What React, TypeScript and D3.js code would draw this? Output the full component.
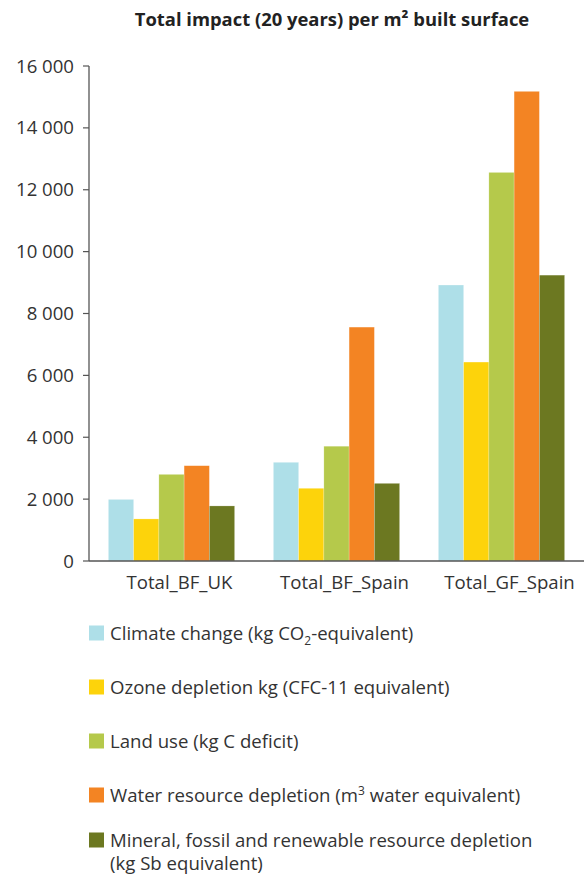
import React from "react";
import * as d3 from "d3";

const categories = ["Total_BF_UK", "Total_BF_Spain", "Total_GF_Spain"];
const seriesNames = [
  "Climate change",
  "Ozone depletion",
  "Land use",
  "Water resource depletion",
  "Mineral, fossil and renewable resource depletion",
];
const climateChange = [1990, 3190, 8920];
const ozoneDepletion = [1360, 2350, 6430];
const landUse = [2800, 3710, 12560];
const waterDepletion = [3080, 7560, 15180];
const mineralDepletion = [1780, 2510, 9240];
const yTicks = [0, 2000, 4000, 6000, 8000, 10000, 12000, 14000, 16000];
const colors = ["#AEDFE8", "#FDD30B", "#B5C94B", "#F38423", "#6C7821"];

const seriesValues = [climateChange, ozoneDepletion, landUse, waterDepletion, mineralDepletion];

const W = 585;
const H = 875;
const margin = { left: 89, right: 1, top: 66, bottom: 314 };
const FONT = "'Open Sans', 'Noto Sans', sans-serif";
const TEXT = "#333333";
const AXIS = "#555555";
const FS = 18.6;

function fmt(v: number) {
  return d3.format(",")(v).replace(/,/g, " ");
}

function LegendLabel({ i }: { i: number }) {
  const small = { fontSize: 12 };
  if (i === 0)
    return (
      <>
        <tspan>Climate change (kg CO</tspan>
        <tspan dy={5} style={small}>2</tspan>
        <tspan dy={-5}>-equivalent)</tspan>
      </>
    );
  if (i === 1) return <tspan>Ozone depletion kg (CFC-11 equivalent)</tspan>;
  if (i === 2) return <tspan>Land use (kg C deficit)</tspan>;
  if (i === 3)
    return (
      <>
        <tspan>Water resource depletion (m</tspan>
        <tspan dy={-7} style={small}>3</tspan>
        <tspan dy={7}> water equivalent)</tspan>
      </>
    );
  return (
    <>
      <tspan x={0}>Mineral, fossil and renewable resource depletion</tspan>
      <tspan x={0} dy={23}>(kg Sb equivalent)</tspan>
    </>
  );
}

export default function App() {
  const x0 = d3
    .scaleBand<string>()
    .domain(categories)
    .range([margin.left, W - margin.right])
    .paddingInner(0.235)
    .paddingOuter(0.1175);
  const x1 = d3
    .scaleBand<number>()
    .domain(d3.range(seriesNames.length))
    .range([0, x0.bandwidth()]);
  const y = d3
    .scaleLinear()
    .domain([0, 16000])
    .range([H - margin.bottom, margin.top]);

  const y0 = y(0);

  const legendTop = 633;
  const legendStep = 54;

  return (
    <svg
      width={W}
      height={H}
      style={{ position: "absolute", left: 0, top: 0, background: "#fff" }}
      fontFamily={FONT}
    >
      <text
        x={332}
        y={26}
        textAnchor="middle"
        fontSize={18.4}
        fontWeight={700}
        fill="#222"
      >
        Total impact (20 years) per m² built surface
      </text>

      {categories.map((c, ci) => (
        <g key={c} transform={`translate(${x0(c)},0)`}>
          {seriesValues.map((vals, si) => (
            <rect
              key={si}
              x={x1(si)}
              y={y(vals[ci])}
              width={x1.bandwidth()}
              height={y0 - y(vals[ci])}
              fill={colors[si]}
              stroke="#ffffff"
              strokeOpacity={0.35}
              strokeWidth={0.6}
            />
          ))}
        </g>
      ))}

      <line x1={margin.left} x2={margin.left} y1={y(16000)} y2={y0} stroke={AXIS} strokeWidth={1.3} />
      {yTicks.map((t) => (
        <g key={t}>
          <line x1={margin.left - 6} x2={margin.left} y1={y(t)} y2={y(t)} stroke={AXIS} strokeWidth={1.2} />
          <text
            x={margin.left - 15}
            y={y(t)}
            dy="0.35em"
            textAnchor="end"
            fontSize={FS}
            fill={TEXT}
          >
            {fmt(t)}
          </text>
        </g>
      ))}

      <line x1={margin.left} x2={W - 1} y1={y0} y2={y0} stroke={AXIS} strokeWidth={1.6} />
      {categories.map((c) => (
        <text
          key={c}
          x={(x0(c) as number) + x0.bandwidth() / 2 + 8}
          y={y0 + 28}
          textAnchor="middle"
          fontSize={FS}
          fill={TEXT}
        >
          {c}
        </text>
      ))}

      {seriesNames.map((s, i) => {
        const multi = i === seriesNames.length - 1;
        const cy = legendTop + i * legendStep - (multi ? 9 : 0);
        return (
          <g key={s} transform={`translate(${margin.left},${cy})`}>
            <rect x={0} y={-7.5} width={15} height={15} fill={colors[i]} />
            <g transform="translate(21,0)">
              <text x={0} y={0} dy="0.35em" fontSize={FS} fill={TEXT}>
                <LegendLabel i={i} />
              </text>
            </g>
          </g>
        );
      })}
    </svg>
  );
}
